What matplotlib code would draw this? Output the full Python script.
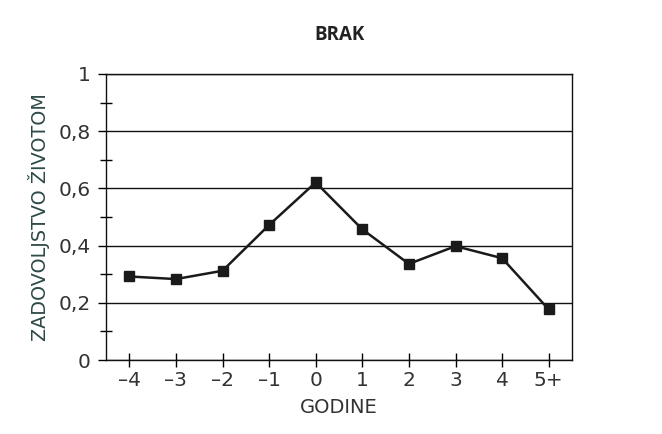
import matplotlib
matplotlib.use("Agg")
import matplotlib.pyplot as plt
from matplotlib.ticker import MultipleLocator

categories = ["\u20134", "\u20133", "\u20132", "\u20131", "0", "1", "2", "3", "4", "5+"]
values = [0.292, 0.283, 0.312, 0.472, 0.621, 0.457, 0.336, 0.398, 0.356, 0.177]
y_ticks = [0, 0.2, 0.4, 0.6, 0.8, 1]
y_tick_labels = ["0", "0,2", "0,4", "0,6", "0,8", "1"]

plt.rcParams['font.family'] = ['DejaVu Sans']
fig = plt.figure(figsize=(6.62, 4.34), dpi=100)
ax = fig.add_axes([106/662, 1-360/434, (572-106)/662, (360-74)/434])

x = list(range(len(categories)))
ax.plot(x, values, color='#1a1a1a', lw=1.8, marker='s', markersize=7, zorder=3)

ax.set_xlim(-0.5, len(categories) - 0.5)
ax.set_ylim(0, 1)
ax.set_yticks(y_ticks)
ax.set_yticklabels(y_tick_labels)
ax.yaxis.set_minor_locator(MultipleLocator(0.1))
ax.set_xticks(x)
ax.set_xticklabels(categories)
ax.yaxis.grid(True, which='major', color='#111111', lw=1)
ax.set_axisbelow(True)

ax.tick_params(axis='x', direction='inout', length=10, width=1, labelsize=14.5, labelcolor='#333333', pad=3)
ax.tick_params(axis='y', which='major', direction='out', length=6, width=1, labelsize=14.5, labelcolor='#333333', pad=5)
ax.tick_params(axis='y', which='minor', direction='inout', length=9, width=1)

for s in ax.spines.values():
    s.set_color('#111111')
    s.set_linewidth(1)

ax.set_xlabel("GODINE", fontsize=14, color='#333333', labelpad=6)
ax.set_ylabel("ZADOVOLJSTVO \u017dIVOTOM", fontsize=13.8, color='#2e4a48', labelpad=6)
fig.text(339/662, 1-35/434, "BRAK", ha='center', va='center', fontsize=13.5,
         fontweight='bold', color='#222222', family=['Open Sans', 'DejaVu Sans'])

fig.savefig("out.png", dpi=100)
